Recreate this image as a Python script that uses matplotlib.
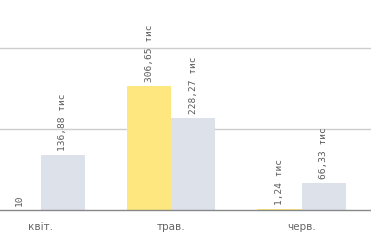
import matplotlib
matplotlib.use("Agg")
import matplotlib.pyplot as plt
import numpy as np

months = ["квіт.", "трав.", "черв."]
current = [0.010, 306.65, 1.24]        # thousands
previous = [136.88, 228.27, 66.33]     # thousands
current_labels = ["10", "306,65 тис", "1,24 тис"]
previous_labels = ["136,88 тис", "228,27 тис", "66,33 тис"]

fig = plt.figure(figsize=(3.71, 2.41), dpi=100)
ax = fig.add_axes([0, 31 / 241, 1, 210 / 241])

x = np.arange(len(months))
w = 0.337
b1 = ax.bar(x - w / 2, current, w, color="#FFE780", zorder=2)
b2 = ax.bar(x + w / 2, previous, w, color="#DCE1EA", zorder=2)

for bars, labels in ((b1, current_labels), (b2, previous_labels)):
    for rect, lab in zip(bars, labels):
        ax.annotate(lab, (rect.get_x() + rect.get_width() / 2, rect.get_height()),
                    xytext=(0, 3), textcoords="offset points",
                    rotation=90, ha="center", va="bottom",
                    fontsize=6.8, family="DejaVu Sans Mono", color="#5a5a5a")

ax.set_xlim(-0.314, 2.529)
ax.set_ylim(0, 519.6)
ax.set_yticks([200, 400])
ax.yaxis.grid(True, color="#CCCCCC", linewidth=1, zorder=0)
ax.tick_params(axis="y", left=False, labelleft=False)
ax.set_xticks(x)
ax.set_xticklabels(months, fontsize=7.5, color="#666666")
ax.tick_params(axis="x", length=0, pad=9)
for s in ("top", "right", "left"):
    ax.spines[s].set_visible(False)
ax.spines["bottom"].set_color("#888888")
ax.spines["bottom"].set_linewidth(1)
ax.spines["bottom"].set_zorder(3)
ax.set_facecolor("white")

fig.savefig("out.png", dpi=100)
